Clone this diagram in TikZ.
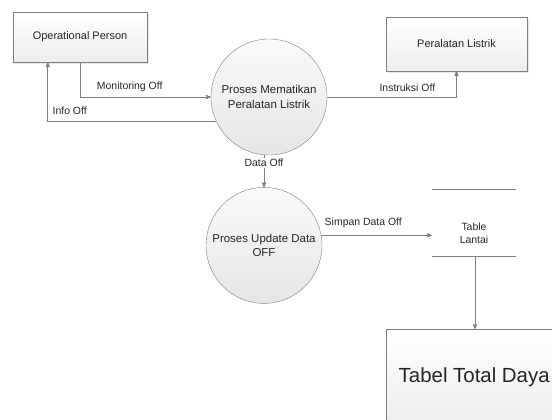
\documentclass[tikz,border=0pt]{standalone}
\usepackage{fontspec}
\setmainfont{Liberation Sans}
\usetikzlibrary{arrows, shadows, positioning, calc}
\definecolor{linegray}{HTML}{7F7F7F}
\definecolor{textgray}{HTML}{262626}

\begin{document}
\begin{tikzpicture}
            [x=1bp, y=-1bp, >=stealth',
            every node/.style={text=textgray, font=\fontsize{11}{14}\selectfont},
            entity/.style={rectangle, draw=linegray, top color=white, bottom color=gray!14, align=center,
                drop shadow={opacity=0.18, shadow xshift=1.5bp, shadow yshift=-1.5bp}},
            process/.style={circle, draw=linegray, top color=gray!4, bottom color=gray!20, minimum size=116bp,
                inner sep=0pt, align=center, font=\fontsize{11.5}{15}\selectfont},
            store/.style={minimum width=84bp, align=center, font=\fontsize{10.5}{13}\selectfont},
            line/.style={draw=linegray, line width=0.8bp},
            flow/.style={->, line},
            flowlabel/.style={font=\fontsize{10.5}{12}\selectfont, inner sep=1bp}]
            \useasboundingbox (0,0) rectangle (552,419);
            \clip (0,0) rectangle (552,419);

            \node[entity, minimum width=134bp, minimum height=50bp]  (op)  at (80,37)
            {Operational Person};

            \node[entity, minimum width=141bp, minimum height=54bp]  (pl)  at (456.5,44)
            {Peralatan Listrik};

            \node[process]  (p1)  at (269,97)
            {Proses Mematikan \\ Peralatan Listrik};

            \node[process]  (p2)  [below=32bp of p1, xshift=-5bp]
            {Proses Update Data \\ OFF};

            \node[store]  (ds)  at (474,233)
            {Table \\ Lantai};

            \node[entity, anchor=north west, minimum width=176bp, minimum height=96bp,
                  font=\fontsize{20.5}{24}\selectfont]  (tt)  at (386,329)
            {Tabel Total Daya};

            % data store lines
            \draw[line] ($(ds.west)+(0,-44)$) -- ($(ds.east)+(0,-44)$);
            \draw[line] ($(ds.west)+(0,23)$) -- ($(ds.east)+(0,23)$);
            \coordinate (dsbot) at ($(ds.center)+(1,23)$);

            % flows
            \draw[flow] (op.south) |- (p1.west)
                node[flowlabel, pos=0.69, above=4bp] {Monitoring Off};
            \draw[flow] (p1.205) -| ($(op.south west)+(35,0)$)
                node[flowlabel, pos=0.435, above=6bp] {Info Off};
            \draw[flow] (p1.east) -| (pl.south)
                node[flowlabel, pos=0.31, above=4bp] {Instruksi Off};
            \draw[flow] (p2.north |- p1.south) -- (p2.north)
                node[flowlabel, pos=0.24, fill=white, inner sep=1.5bp] {Data Off};
            \draw[flow] (p2.10) -- (p2.10 -| ds.west)
                node[flowlabel, pos=0.38, above=6bp] {Simpan Data Off};
            \draw[flow] (dsbot) -- (dsbot |- tt.north);
\end{tikzpicture}
\end{document}
